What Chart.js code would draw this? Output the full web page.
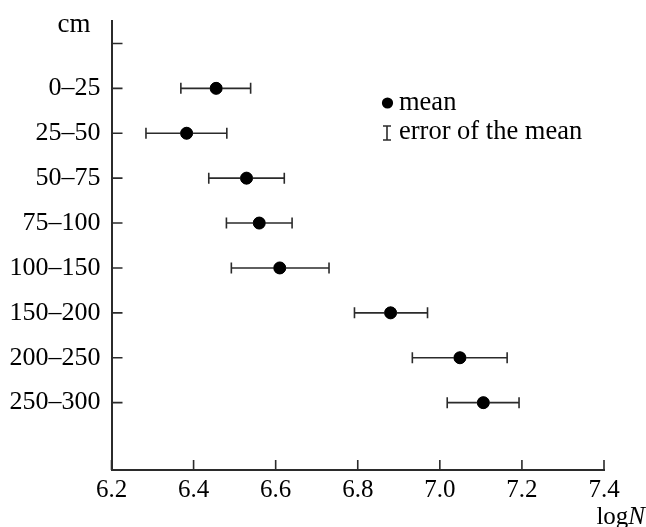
<!DOCTYPE html>
<html>
<head>
<meta charset="utf-8">
<script src="https://cdn.jsdelivr.net/npm/chart.js@4.4.1/dist/chart.umd.min.js"></script>
<style>
  html, body { margin: 0; padding: 0; background: #fff; }
  canvas { display: block; }
</style>
</head>
<body>
<canvas id="chart" width="646" height="527"></canvas>
<script>
const depthLabels = ['0–25', '25–50', '50–75', '75–100', '100–150', '150–200', '200–250', '250–300'];
const meanLogN = [6.455, 6.383, 6.529, 6.560, 6.610, 6.880, 7.049, 7.106];
const errLow = [6.369, 6.284, 6.437, 6.480, 6.492, 6.792, 6.933, 7.018];
const errHigh = [6.539, 6.481, 6.621, 6.640, 6.730, 6.970, 7.164, 7.193];
const xTicks = [6.2, 6.4, 6.6, 6.8, 7.0, 7.2, 7.4];

const FONT = '"Liberation Serif", "Times New Roman", serif';
const INK = '#2b2b2b';

const points = meanLogN.map((v, i) => ({ x: v, y: i + 1 }));

// horizontal error bars, inward ticks, legend and axis captions
const decorations = {
    id: 'decorations',
    afterDatasetsDraw(chart) {
        const ctx = chart.ctx;
        const xs = chart.scales.x;
        const ys = chart.scales.y;
        const area = chart.chartArea;
        ctx.save();
        ctx.strokeStyle = INK;
        ctx.lineWidth = 1.6;
        for (let i = 0; i < depthLabels.length; i++) {
            const y = ys.getPixelForValue(i + 1);
            const x1 = xs.getPixelForValue(errLow[i]);
            const x2 = xs.getPixelForValue(errHigh[i]);
            ctx.beginPath();
            ctx.moveTo(x1, y); ctx.lineTo(x2, y);
            ctx.moveTo(x1, y - 5.5); ctx.lineTo(x1, y + 5.5);
            ctx.moveTo(x2, y - 5.5); ctx.lineTo(x2, y + 5.5);
            ctx.stroke();
        }
        // inward tick marks
        ctx.beginPath();
        for (let i = 0; i <= depthLabels.length; i++) {
            const y = ys.getPixelForValue(i);
            ctx.moveTo(area.left, y); ctx.lineTo(area.left + 11, y);
        }
        xTicks.forEach(v => {
            const x = xs.getPixelForValue(v);
            ctx.moveTo(x, area.bottom); ctx.lineTo(x, area.bottom - 10);
        });
        ctx.stroke();
        // redraw points over the bars
        const meta = chart.getDatasetMeta(0);
        ctx.fillStyle = '#000';
        meta.data.forEach(pt => {
            ctx.beginPath();
            ctx.arc(pt.x, pt.y, 6, 0, Math.PI * 2);
            ctx.fill();
        });

        // legend
        ctx.beginPath();
        ctx.arc(387.5, 103, 5.6, 0, Math.PI * 2);
        ctx.fill();
        ctx.beginPath();
        ctx.moveTo(387, 126); ctx.lineTo(387, 140);
        ctx.moveTo(383, 126); ctx.lineTo(391, 126);
        ctx.moveTo(383, 140); ctx.lineTo(391, 140);
        ctx.stroke();
        ctx.font = '26.5px ' + FONT;
        ctx.textBaseline = 'alphabetic';
        ctx.textAlign = 'left';
        ctx.fillText('mean', 399, 110);
        ctx.fillText('error of the mean', 399, 139);

        // axis captions
        ctx.font = '27px ' + FONT;
        ctx.textAlign = 'center';
        ctx.fillText('cm', 74, 32);
        ctx.textAlign = 'right';
        ctx.font = 'italic 25px ' + FONT;
        const nW = ctx.measureText('N').width;
        ctx.fillText('N', 645, 524);
        ctx.font = '25px ' + FONT;
        ctx.fillText('log', 645 - nW, 524);
        ctx.restore();
    }
};

new Chart(document.getElementById('chart'), {
    type: 'scatter',
    data: {
        datasets: [{
            label: 'mean',
            data: points,
            backgroundColor: '#000',
            borderColor: '#000',
            pointRadius: 6,
            pointHoverRadius: 6
        }]
    },
    options: {
        responsive: false,
        animation: false,
        devicePixelRatio: 1,
        layout: { padding: { top: 21, right: 42, left: 0, bottom: 0 } },
        plugins: {
            legend: { display: false },
            tooltip: { enabled: false }
        },
        scales: {
            x: {
                type: 'linear',
                min: 6.2,
                max: 7.4,
                afterBuildTicks: scale => { scale.ticks = xTicks.map(v => ({ value: v })); },
                afterFit: scale => { scale.height = 57; },
                grid: { display: false, drawTicks: false },
                border: { display: true, color: INK, width: 2 },
                ticks: {
                    color: '#000',
                    font: { family: FONT, size: 25 },
                    padding: 5,
                    maxRotation: 0,
                    callback: v => v.toFixed(1)
                }
            },
            y: {
                type: 'linear',
                reverse: true,
                min: -0.5,
                max: 9.5,
                afterBuildTicks: scale => {
                    scale.ticks = [0].concat(depthLabels.map((_, i) => i + 1)).map(v => ({ value: v }));
                },
                afterFit: scale => {
                    scale.width = 111.5;
                    scale.paddingTop = 0;
                    scale.paddingBottom = 0;
                },
                grid: { display: false, drawTicks: false },
                border: { display: true, color: INK, width: 2 },
                ticks: {
                    color: '#000',
                    font: { family: FONT, size: 26 },
                    padding: 11,
                    callback: v => (v >= 1 && v <= depthLabels.length ? depthLabels[v - 1] : '')
                }
            }
        }
    },
    plugins: [decorations]
});
</script>
</body>
</html>
